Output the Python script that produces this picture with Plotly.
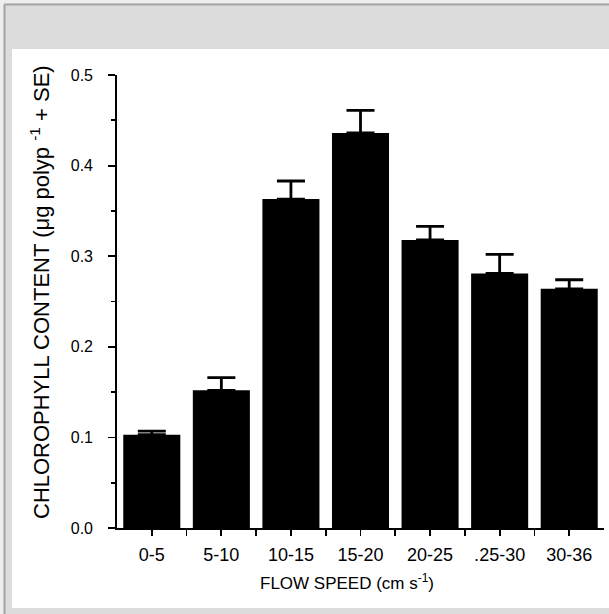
import plotly.graph_objects as go

categories = ["0-5", "5-10", "10-15", "15-20", "20-25", ".25-30", "30-36"]
chlorophyll = [0.103, 0.152, 0.363, 0.436, 0.318, 0.281, 0.264]
se = [0.004, 0.014, 0.020, 0.025, 0.015, 0.021, 0.010]
y_ticks = [0.0, 0.1, 0.2, 0.3, 0.4, 0.5]
y_ticktext = ["0.0", "0.1", "0.2", "0.3", "0.4", "0.5"]

W, H = 609, 614
L, R, T, B = 117, 5, 75, 86
PW, PH = W - L - R, H - T - B


def fx(px):
    return (px - L) / PW


def fy(py):
    return (H - B - py) / PH


FONT = "Liberation Sans, Arial, Helvetica, sans-serif"
pos = list(range(len(categories)))

fig = go.Figure()
fig.add_trace(go.Bar(
    x=pos, y=chlorophyll, width=0.82,
    marker=dict(color="black", line=dict(width=0)),
    error_y=dict(type="data", array=se, arrayminus=[0] * len(se), symmetric=False,
                 color="black", thickness=2.8, width=14),
    hoverinfo="skip",
))

shapes = [
    dict(type="rect", xref="paper", yref="paper", x0=fx(0), x1=fx(3.5), y0=fy(H), y1=fy(0),
         fillcolor="#eeeeee", line=dict(width=0), layer="below"),
    dict(type="rect", xref="paper", yref="paper", x0=fx(0), x1=fx(W), y0=fy(3.5), y1=fy(0),
         fillcolor="#eeeeee", line=dict(width=0), layer="below"),
    dict(type="line", xref="paper", yref="paper", x0=fx(4.5), x1=fx(4.5), y0=fy(H), y1=fy(4.5),
         line=dict(color="#a4a4a4", width=2), layer="below"),
    dict(type="line", xref="paper", yref="paper", x0=fx(4.5), x1=fx(W), y0=fy(4.5), y1=fy(4.5),
         line=dict(color="#a4a4a4", width=2), layer="below"),
    dict(type="rect", xref="paper", yref="paper", x0=fx(12), x1=fx(W + 2), y0=fy(608), y1=fy(49),
         fillcolor="white", line=dict(width=0), layer="below"),
]

annotations = [
    dict(xref="paper", yref="paper", x=fx(40), y=fy(292),
         text="CHLOROPHYLL CONTENT (μg polyp <sup>-1</sup> + SE)", textangle=-90,
         showarrow=False, font=dict(family=FONT, size=22, color="black"),
         xanchor="center", yanchor="middle"),
    dict(xref="paper", yref="paper", x=fx(347), y=fy(582),
         text="FLOW SPEED (cm s<sup>-1</sup>)",
         showarrow=False, font=dict(family=FONT, size=17, color="black"),
         xanchor="center", yanchor="middle"),
]

fig.update_layout(
    width=W, height=H,
    margin=dict(l=L, r=R, t=T, b=B),
    paper_bgcolor="#dcdcdc",
    plot_bgcolor="rgba(0,0,0,0)",
    showlegend=False,
    shapes=shapes,
    annotations=annotations,
)
fig.update_xaxes(
    range=[-0.5, 6.5], tickmode="array", tickvals=pos, ticktext=categories,
    showline=True, linecolor="black", linewidth=1.8, showgrid=False, zeroline=False,
    ticks="outside", ticklen=6, tickwidth=1.8, tickcolor="black",
    ticklabelstandoff=4,
    tickfont=dict(family=FONT, size=18, color="black"),
    minor=dict(tickmode="array", tickvals=[p + 0.5 for p in pos[:-1]],
               ticks="outside", ticklen=6, tickwidth=1.8, tickcolor="black", showgrid=False),
)
fig.update_yaxes(
    range=[0, 0.5], tickmode="array", tickvals=y_ticks, ticktext=y_ticktext,
    showline=True, linecolor="black", linewidth=1.8, showgrid=False, zeroline=False,
    ticks="outside", ticklen=7, tickwidth=1.8, tickcolor="black",
    ticklabelstandoff=12,
    tickfont=dict(family=FONT, size=16, color="black"),
    minor=dict(tickmode="array", tickvals=[0.05, 0.15, 0.25, 0.35, 0.45],
               ticks="outside", ticklen=4, tickwidth=1.8, tickcolor="black", showgrid=False),
)

fig.write_html(
    "out.html",
    config={"displayModeBar": False, "staticPlot": True},
    post_script=(
        "document.body.style.margin='0';document.body.style.padding='0';"
        "document.body.style.overflow='hidden';"
        "document.documentElement.style.overflow='hidden';"
    ),
)
